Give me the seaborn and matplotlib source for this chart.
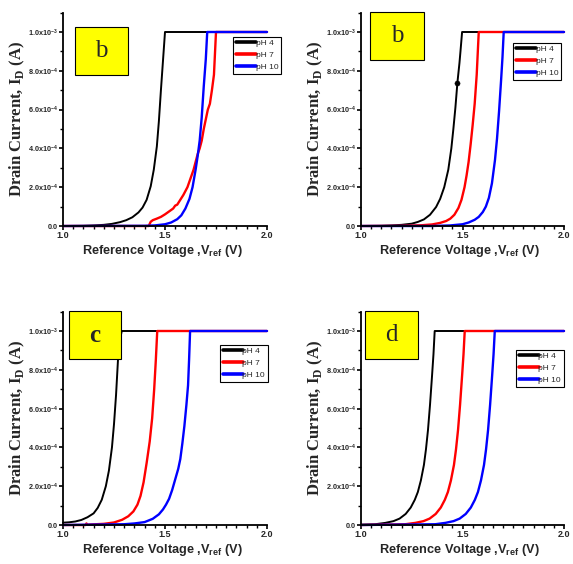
import matplotlib
matplotlib.use("Agg")
import matplotlib.pyplot as plt
import seaborn as sns
from matplotlib.patches import Rectangle
from matplotlib.ticker import MultipleLocator

sns.set_style("ticks")
plt.rcParams['font.family'] = ['Liberation Sans', 'DejaVu Sans']

# ---------------------------------------------------------------------------
# Data (drain current in units of 1e-3 A)
# ---------------------------------------------------------------------------
series_labels = ["pH 4", "pH 7", "pH 10"]
series_colors = ["#000000", "#ff0000", "#0000ff"]
panel_letters = ["b", "b", "c", "d"]

# panel 1
p1_v_ph4 = [1.0, 1.1, 1.15, 1.2, 1.24, 1.28, 1.31, 1.34, 1.37, 1.39, 1.41, 1.43, 1.445,
            1.46, 1.47, 1.48, 1.49, 1.5, 2.0]
p1_i_ph4 = [0.0, 0.001, 0.003, 0.006, 0.011, 0.02, 0.03, 0.045, 0.07, 0.095, 0.135, 0.205, 0.29,
            0.41, 0.54, 0.7, 0.85, 1.0, 1.0]
p1_v_ph7 = [1.0, 1.42, 1.43, 1.44, 1.46, 1.48, 1.5, 1.52, 1.54, 1.55, 1.56, 1.575, 1.59, 1.6,
            1.61, 1.62, 1.63, 1.64, 1.65, 1.66, 1.67, 1.68, 1.69, 1.70, 1.71, 1.72, 1.73, 1.74,
            1.75, 2.0]
p1_i_ph7 = [0.0, 0.0, 0.022, 0.03, 0.038, 0.047, 0.06, 0.075, 0.09, 0.105, 0.11, 0.135, 0.16, 0.18,
            0.2, 0.23, 0.26, 0.29, 0.33, 0.37, 0.4, 0.44, 0.5, 0.55, 0.6, 0.63, 0.7, 0.78,
            1.0, 1.0]
p1_v_ph10 = [1.0, 1.4, 1.45, 1.5, 1.53, 1.56, 1.58, 1.6, 1.62, 1.635, 1.65, 1.66, 1.67, 1.68,
             1.69, 1.7, 1.707, 2.0]
p1_i_ph10 = [0.0, 0.001, 0.003, 0.009, 0.018, 0.035, 0.055, 0.09, 0.14, 0.2, 0.29, 0.36, 0.44, 0.56,
             0.72, 0.86, 1.0, 1.0]

# panel 2
p2_v_ph4 = [1.0, 1.1, 1.15, 1.2, 1.25, 1.28, 1.31, 1.34, 1.37, 1.39, 1.41, 1.43, 1.445, 1.455,
            1.465, 1.475, 1.485, 1.49, 1.498, 2.0]
p2_i_ph4 = [0.0, 0.001, 0.003, 0.006, 0.012, 0.021, 0.034, 0.058, 0.098, 0.14, 0.2, 0.29, 0.4, 0.5,
            0.61, 0.74, 0.84, 0.9, 1.0, 1.0]
p2_v_ph7 = [1.0, 1.2, 1.3, 1.35, 1.39, 1.42, 1.44, 1.46, 1.48, 1.495, 1.51, 1.52, 1.53, 1.54,
            1.55, 1.56, 1.57, 1.58, 2.0]
p2_i_ph7 = [0.0, 0.001, 0.004, 0.008, 0.016, 0.026, 0.038, 0.058, 0.093, 0.135, 0.2, 0.26, 0.33, 0.42,
            0.52, 0.63, 0.78, 1.0, 1.0]
p2_v_ph10 = [1.0, 1.35, 1.44, 1.5, 1.53, 1.56, 1.58, 1.6, 1.615, 1.63, 1.645, 1.66, 1.67, 1.68,
             1.69, 1.697, 1.703, 2.0]
p2_i_ph10 = [0.0, 0.0, 0.003, 0.009, 0.018, 0.032, 0.047, 0.072, 0.1, 0.145, 0.22, 0.34, 0.45, 0.59,
             0.75, 0.87, 1.0, 1.0]
p2_marker_v = [1.473]
p2_marker_i = [0.735]

# panel 3
p3_v_ph4 = [1.0, 1.03, 1.06, 1.09, 1.12, 1.15, 1.17, 1.19, 1.21, 1.225, 1.24, 1.25, 1.26, 1.27,
            1.28, 1.288, 2.0]
p3_i_ph4 = [0.012, 0.014, 0.018, 0.026, 0.04, 0.06, 0.088, 0.13, 0.2, 0.28, 0.4, 0.52, 0.67, 0.86,
            0.96, 1.0, 1.0]
p3_v_ph7 = [1.0, 1.11, 1.115, 1.12, 1.2, 1.25, 1.29, 1.32, 1.345, 1.365, 1.38, 1.395, 1.41, 1.425,
            1.437, 1.447, 1.455, 1.462, 2.0]
p3_i_ph7 = [0.0, 0.0, 0.008, 0.002, 0.006, 0.013, 0.027, 0.045, 0.07, 0.105, 0.15, 0.22, 0.32, 0.43,
            0.55, 0.7, 0.85, 1.0, 1.0]
p3_v_ph10 = [1.0, 1.3, 1.35, 1.4, 1.44, 1.47, 1.49, 1.505, 1.52, 1.535, 1.55, 1.565, 1.575, 1.585,
             1.595, 1.605, 1.613, 1.618, 1.623, 2.0]
p3_i_ph10 = [0.0, 0.004, 0.008, 0.015, 0.032, 0.055, 0.08, 0.105, 0.135, 0.18, 0.235, 0.29, 0.34, 0.42,
             0.51, 0.62, 0.72, 0.85, 1.0, 1.0]

# panel 4
p4_v_ph4 = [1.0, 1.07, 1.12, 1.16, 1.19, 1.22, 1.245, 1.265, 1.28, 1.295, 1.31, 1.32, 1.33, 1.34,
            1.35, 1.357, 1.363, 2.0]
p4_i_ph4 = [0.002, 0.004, 0.011, 0.02, 0.033, 0.057, 0.09, 0.13, 0.17, 0.23, 0.31, 0.39, 0.49, 0.62,
            0.77, 0.88, 1.0, 1.0]
p4_v_ph7 = [1.0, 1.218, 1.268, 1.308, 1.338, 1.368, 1.393, 1.413, 1.428, 1.443, 1.458, 1.468, 1.478,
            1.488, 1.498, 1.505, 1.511, 2.0]
p4_i_ph7 = [0.0, 0.004, 0.011, 0.02, 0.033, 0.057, 0.09, 0.13, 0.17, 0.23, 0.31, 0.39, 0.49,
            0.62, 0.77, 0.88, 1.0, 1.0]
p4_v_ph10 = [1.0, 1.366, 1.416, 1.456, 1.486, 1.516, 1.541, 1.561, 1.576, 1.591, 1.606, 1.616, 1.626,
             1.636, 1.646, 1.653, 1.659, 2.0]
p4_i_ph10 = [0.0, 0.004, 0.011, 0.02, 0.033, 0.057, 0.09, 0.13, 0.17, 0.23, 0.31, 0.39, 0.49,
             0.62, 0.77, 0.88, 1.0, 1.0]

ytick_vals = [0.0, 0.2, 0.4, 0.6, 0.8, 1.0]
ytick_labels = ["0.0", r"2.0x10$^{\mathregular{-4}}$", r"4.0x10$^{\mathregular{-4}}$",
                r"6.0x10$^{\mathregular{-4}}$", r"8.0x10$^{\mathregular{-4}}$",
                r"1.0x10$^{\mathregular{-3}}$"]
xtick_vals = [1.0, 1.5, 2.0]
xtick_labels = ["1.0", "1.5", "2.0"]

panels = [
    [(p1_v_ph4, p1_i_ph4), (p1_v_ph7, p1_i_ph7), (p1_v_ph10, p1_i_ph10)],
    [(p2_v_ph4, p2_i_ph4), (p2_v_ph7, p2_i_ph7), (p2_v_ph10, p2_i_ph10)],
    [(p3_v_ph4, p3_i_ph4), (p3_v_ph7, p3_i_ph7), (p3_v_ph10, p3_i_ph10)],
    [(p4_v_ph4, p4_i_ph4), (p4_v_ph7, p4_i_ph7), (p4_v_ph10, p4_i_ph10)],
]

# ---------------------------------------------------------------------------
# Layout (pixel boxes of the reference, 573 x 564)
# ---------------------------------------------------------------------------
W, H = 573, 564
fig = plt.figure(figsize=(W / 100, H / 100), dpi=100)

def fx(px):
    return px / W

def fy(py):
    return 1 - py / H

# left, right, y of zero, y of 1e-3
axes_px = [(63, 267, 226, 32), (361, 564, 226, 32), (63, 267, 525, 331), (361, 564, 525, 331)]
box_px = [(75, 27, 128, 75), (370, 12, 424, 60), (69, 311, 121, 359), (365, 311, 418, 359)]
legend_px = [(233, 37), (513, 43), (220, 345), (516, 350)]

for k, data in enumerate(panels):
    left, right, y0, y1 = axes_px[k]
    unit = y0 - y1
    top = y0 - 1.1 * unit
    ax = fig.add_axes([fx(left), fy(y0), fx(right) - fx(left), (y0 - top) / H])

    handles = []
    for (v, i), lab, col in zip(data, series_labels, series_colors):
        lw = 1.4 if col == "#000000" else 1.7
        sns.lineplot(x=v, y=i, ax=ax, color=col, linewidth=lw, sort=False,
                     estimator=None, clip_on=False)
        handles.append(plt.Line2D([], [], color=col, linewidth=2.6, label=lab))
    if k == 1:
        sns.scatterplot(x=p2_marker_v, y=p2_marker_i, ax=ax, color="black", s=14,
                        edgecolor="black", zorder=5)

    ax.set_xlim(1.0, 2.0)
    ax.set_ylim(0.0, 1.1)
    sns.despine(ax=ax)
    for s in ["left", "bottom"]:
        ax.spines[s].set_linewidth(1.3)
        ax.spines[s].set_color("black")

    ax.set_xticks(xtick_vals)
    ax.set_xticklabels(xtick_labels, fontsize=6.5, fontweight="bold")
    ax.set_yticks(ytick_vals)
    ax.set_yticklabels(ytick_labels, fontsize=5.2, fontweight="bold")
    ax.xaxis.set_minor_locator(MultipleLocator(0.05))
    ax.yaxis.set_minor_locator(MultipleLocator(0.1))
    ax.tick_params(which="major", direction="out", length=3, width=1.2, pad=0.5, color="black")
    ax.tick_params(which="minor", direction="out", length=2, width=1.0, color="black")

    ax.set_xlabel(r"Reference Voltage ,V$_{\mathregular{ref}}$ (V)", fontsize=9.2,
                  fontweight="bold")
    ax.xaxis.set_label_coords(0.485, -0.078)
    ax.set_ylabel(r"Drain Current, I$_{\mathregular{D}}$ (A)", fontsize=12,
                  fontweight="bold", family=["Liberation Serif", "DejaVu Serif"])
    ax.yaxis.set_label_coords(-0.175, 0.5)

    lx, ly = legend_px[k]
    ax.legend(handles=handles, loc="upper left", bbox_to_anchor=(fx(lx), fy(ly)),
              bbox_transform=fig.transFigure, fontsize=6, frameon=True, fancybox=False,
              edgecolor="black", framealpha=1, handlelength=2.4, handletextpad=0.0,
              labelspacing=0.5, borderpad=0.3, borderaxespad=0)
    ax.get_legend().get_frame().set_linewidth(0.8)

    bx0, by0, bx1, by1 = box_px[k]
    fig.add_artist(Rectangle((fx(bx0), fy(by1)), fx(bx1) - fx(bx0), (by1 - by0) / H,
                             transform=fig.transFigure, facecolor="#ffff00",
                             edgecolor="black", linewidth=0.8, zorder=5))
    letter_weight = "bold" if panel_letters[k] == "c" else "normal"
    fig.text(fx((bx0 + bx1) / 2), fy((by0 + by1) / 2), panel_letters[k], ha="center",
             va="center", fontsize=18, fontweight=letter_weight,
             family=["Liberation Serif", "DejaVu Serif"], zorder=6)

fig.savefig("out.png", dpi=100)
